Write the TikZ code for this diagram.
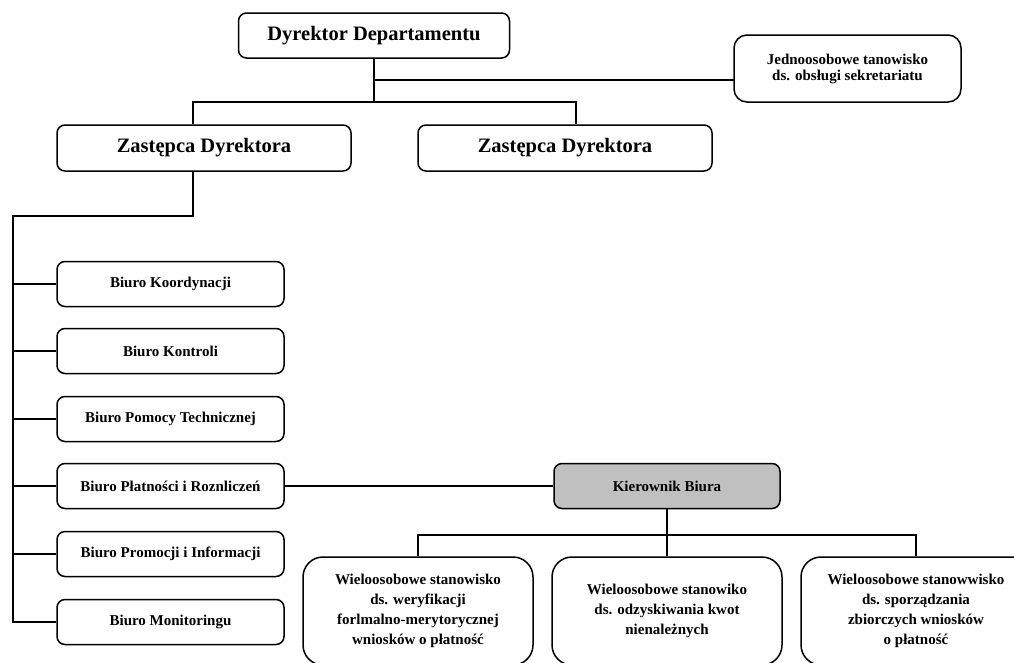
\documentclass[tikz,border=0pt]{standalone}
\usepackage{fontspec}
\setmainfont{Liberation Serif}
\begin{document}
\begin{tikzpicture}[x=1pt,y=-1pt,
  box/.style={draw=black, line width=1.5pt, rounded corners=8pt, inner sep=0pt, align=center, font=\bfseries\fontsize{15}{16}\selectfont},
  bigbox/.style={box, font=\bfseries\fontsize{20.5}{22}\selectfont, minimum height=45pt},
  biuro/.style={box, minimum width=227pt, minimum height=45pt},
  wbox/.style={box, rounded corners=20pt, minimum width=230pt, minimum height=108pt, font=\bfseries\fontsize{15}{20}\selectfont},
  conn/.style={line width=1.5pt}
]
\fill[white] (0,0) rectangle (1014,662);
\useasboundingbox (0,0) rectangle (1014,662);

\node[bigbox, minimum width=271pt] (dyr) at (374,35.5) {Dyrektor Departamentu};
\node[box, rounded corners=13pt, minimum width=227pt, minimum height=67pt] (jed) at (847.5,68.5) {Jednoosobowe tanowisko\\ds. obsługi sekretariatu};
\node[bigbox, minimum width=294pt, minimum height=46pt] (z1) at (204,148) {Zastępca Dyrektora};
\node[bigbox, minimum width=294pt, minimum height=46pt] (z2) at (565,148) {Zastępca Dyrektora};

\node[biuro] (b1) at (170.5,284) {Biuro Koordynacji};
\node[biuro] (b2) at (170.5,351) {Biuro Kontroli};
\node[biuro] (b3) at (170.5,419) {Biuro Pomocy Technicznej};
\node[biuro] (b4) at (170.5,486) {Biuro Płatności i Roznliczeń};
\node[biuro] (b5) at (170.5,554) {Biuro Promocji i Informacji};
\node[biuro] (b6) at (170.5,622) {Biuro Monitoringu};

\node[box, fill={rgb,255:red,192;green,192;blue,192}, minimum width=226pt, minimum height=45pt] (kb) at (667,486) {Kierownik Biura};

\node[wbox] (w1) at (418,611) {Wieloosobowe stanowisko\\ds. weryfikacji\\forlmalno-merytorycznej\\wniosków o płatność};
\node[wbox] (w2) at (667,611) {Wieloosobowe stanowiko\\ds. odzyskiwania kwot\\nienależnych};
\node[wbox] (w3) at (916,611) {Wieloosobowe stanowwisko\\ds. sporządzania\\zbiorczych wniosków\\o płatność};

\coordinate (hj) at (734,80);
\coordinate (hz) at (374,102);
\coordinate (lv) at (13,216);
\coordinate (hw) at (667,535);

\draw[conn] (dyr.south) -- (hz);
\draw[conn] (dyr.south |- hj) -- (hj);
\draw[conn] ([xshift=-11pt]z1.north) |- (hz) -| ([xshift=11pt]z2.north);
\draw[conn] ([xshift=-11pt]z1.south) |- (lv) |- (b6.west);
\foreach \b in {b1,b2,b3,b4,b5}{
  \draw[conn] (lv |- \b.west) -- (\b.west);
}
\draw[conn] (b4.east) -- (kb.west);
\draw[conn] (kb.south) -- (hw);
\draw[conn] (w1.north) |- (hw) -| (w3.north);
\draw[conn] (w2.north) -- (w2.north |- hw);
\end{tikzpicture}
\end{document}
